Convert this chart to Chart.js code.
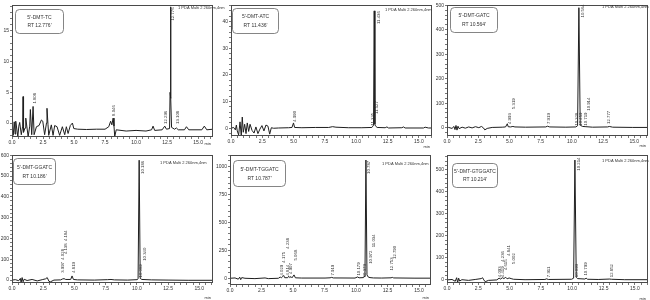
<!DOCTYPE html>
<html><head><meta charset="utf-8">
<script src="https://cdn.jsdelivr.net/npm/chart.js@4.4.1/dist/chart.umd.min.js"></script>
<style>
html,body{margin:0;padding:0;background:#fff;}
body{width:650px;height:300px;position:relative;overflow:hidden;}
canvas{position:absolute;}
</style></head><body>
<script>
// ---------- DATA ----------
const xTickValues = [0, 2.5, 5, 7.5, 10, 12.5, 15];
const pdaText = "1 PDA Multi 2 260nm,4nm";

// Panel 1: 5'-DMT-TC
const p1Name = "5'-DMT-TC", p1RT = "RT 12.776'";
const p1YTicks = [0, 5, 10, 15];
const p1Time = [0,0.10,0.18,0.25,0.30,0.47,0.55,0.62,0.75,0.86,0.89,0.93,1.05,1.11,1.30,1.43,1.48,1.59,1.70,1.78,1.97,2.18,2.37,2.48,2.63,2.78,2.82,2.90,2.96,3.17,3.31,3.44,3.63,3.84,4.06,4.25,4.38,4.52,4.70,4.87,4.98,5.30,6.00,6.80,7.50,7.80,7.95,8.05,8.15,8.22,8.28,8.40,9.20,10.00,10.80,11.25,11.37,11.50,12.10,12.31,12.45,12.70,12.74,12.776,12.81,12.86,13.10,13.25,13.40,13.90,14.06,14.25,15.30,15.50,15.70,16.20];
const p1Signal = [-0.3,-2.0,0.2,-1.8,0.3,-2.2,-0.5,0.1,-1.9,-0.5,4.3,-1.5,-0.8,0.8,-2.2,-0.5,2.2,-1.9,2.7,-1.9,-0.6,-0.4,0.5,0.3,-1.9,0.0,2.4,-0.2,-2.0,-0.3,-2.0,-0.4,-0.6,-2.0,-0.6,-1.9,-0.6,-1.7,-0.4,0.0,-0.9,-1.0,-1.05,-1.0,-1.0,-0.6,0.3,-0.3,0.8,-0.5,-2.2,-1.1,-1.3,-1.2,-1.3,-1.1,-0.5,-1.2,-1.1,-0.5,-1.0,-0.9,5.0,18.9,4.0,-0.7,-1.0,-0.8,-1.1,-1.1,-0.6,-1.1,-1.1,-0.5,-1.1,-1.0];
const p1PeakText  = ["1.808","8.046","12.296","12.776","13.108"];
const p1PeakTime  = [1.83, 8.17, 12.37, 12.98, 13.39];
const p1PeakLevel = [3.0, 1.0, -0.3, 16.5, -0.3];

// Panel 2: 5'-DMT-ATC
const p2Name = "5'-DMT-ATC", p2RT = "RT 11.436'";
const p2YTicks = [0, 10, 20, 30, 40];
const p2Time = [0,0.21,0.35,0.43,0.50,0.61,0.72,0.82,0.90,0.98,1.09,1.20,1.30,1.41,1.52,1.68,1.84,1.99,2.15,2.31,2.47,2.63,2.79,2.95,3.09,3.22,3.40,3.80,4.60,4.87,4.99,5.08,5.66,6.73,7.80,8.11,8.38,9.39,10.45,11.25,11.33,11.38,11.436,11.49,11.53,11.67,12.31,12.45,12.58,13.64,13.78,13.90,15.37,15.50,15.77,16.05];
const p2Signal = [0,0.3,-0.6,1.2,-1.0,-2.5,2.4,-2.8,4.2,-1.5,1.5,-2.0,2.0,-1.2,1.5,-0.8,-1.8,0.5,-2.0,-0.3,1.0,-1.0,1.2,0.8,-2.2,0.2,0,0.1,0.2,0.3,2.0,0.3,0.2,0.3,0.3,0.6,0.4,0.2,0.2,0.3,0.8,1.2,44.0,1.5,0.9,0.3,0.2,0.5,0.1,0.2,0.5,0.1,0.1,0.4,0.1,0.1];
const p2PeakText  = ["4.990","11.335","11.436","11.527"];
const p2PeakTime  = [5.13, 11.33, 11.78, 11.68];
const p2PeakLevel = [2.1, 0.6, 38.7, 5.0];

// Panel 3: 5'-DMT-GATC
const p3Name = "5'-DMT-GATC", p3RT = "RT 10.564'";
const p3YTicks = [0, 100, 200, 300, 400, 500];
const p3Time = [0,0.13,0.40,0.56,0.64,0.72,0.80,0.88,0.97,1.21,1.47,1.74,2.01,2.28,2.55,2.76,2.92,3.03,3.22,3.62,4.42,4.69,4.83,4.90,5.09,5.28,5.44,6.30,7.91,8.04,8.23,9.52,10.32,10.46,10.564,10.67,10.86,11.13,11.66,12.87,13.00,13.27,14.88,16.10];
const p3Signal = [0,1,-3,5,-8,9,-10,6,-4,2,-2,3,-1,4,0,5,-1,-9,-3,1,2,3,16,4,3,5,3,2,3,6,3,2,3,8,490,10,5,4,2,3,5,2,1,1];
const p3PeakText  = ["4.993","5.319","7.919","10.328","10.459","10.564","10.719","10.914","12.777"];
const p3PeakTime  = [5.01, 5.36, 8.18, 10.42, 10.75, 10.86, 11.13, 11.32, 12.95];
const p3PeakLevel = [11, 72, 11, 4, 4, 446, 4, 65, 11];

// Panel 4: 5'-DMT-GGATC
const p4Name = "5'-DMT-GGATC", p4RT = "RT 10.186'";
const p4YTicks = [0, 100, 200, 300, 400, 500, 600];
const p4Time = [0,0.27,0.54,0.67,0.73,0.81,0.89,0.97,1.21,1.61,2.02,2.42,2.69,2.82,2.96,3.09,3.36,3.90,4.03,4.17,4.30,4.70,4.81,4.92,5.24,6.59,7.66,7.93,8.20,9.27,10.03,10.10,10.186,10.27,10.40,11.16,12.50,14.11,16.10];
const p4Signal = [0,2,-3,8,-12,12,-8,4,-2,3,-4,2,6,12,-6,-8,0,1,5,7,3,3,20,3,1,0,2,3,1,0,2,6,576,8,3,1,0,-1,-1];
const p4PeakText  = ["3.997","4.028","4.138","4.184","4.819","10.089","10.186","10.340"];
const p4PeakTime  = [4.10, 4.10, 4.35, 4.35, 4.95, 10.35, 10.48, 10.67];
const p4PeakLevel = [30, 93, 120, 183, 30, 8, 505, 88];

// Panel 5: 5'-DMT-TGGATC
const p5Name = "5'-DMT-TGGATC", p5RT = "RT 10.787'";
const p5YTicks = [0, 250, 500, 750, 1000];
const p5Time = [0,0.40,0.66,0.77,0.85,0.93,1.19,1.98,2.78,3.04,3.84,4.00,4.07,4.18,4.26,4.34,4.58,4.66,4.74,4.84,4.92,5.08,5.19,5.69,7.54,7.94,8.07,8.20,9.92,10.13,10.24,10.60,10.71,10.787,10.87,10.98,11.11,11.38,12.04,12.78,12.88,12.99,14.68,16.00];
const p5Signal = [0,3,-8,10,-12,6,0,-3,3,-3,0,12,3,15,25,5,5,18,6,15,4,30,4,2,2,4,8,3,2,12,4,6,20,1055,30,10,6,3,2,4,8,3,1,1];
const p5PeakText  = ["4.029","4.175","4.238","4.814","4.907","5.068","7.919","10.179","10.379","10.787","10.972","11.034","12.753","12.790"];
const p5PeakTime  = [4.10, 4.30, 4.55, 4.62, 4.82, 5.20, 8.12, 10.24, 10.68, 11.03, 11.16, 11.38, 12.83, 13.10];
const p5PeakLevel = [15, 130, 255, 15, 30, 150, 15, 15, 0, 922, 120, 268, 60, 163];

// Panel 6: 5'-DMT-GTGGATC
const p6Name = "5'-DMT-GTGGATC", p6RT = "RT 10.214'";
const p6YTicks = [0, 100, 200, 300, 400, 500];
const p6Time = [0,0.40,0.66,0.77,0.85,0.93,1.01,1.19,1.72,2.25,2.73,2.84,2.94,3.05,3.32,3.98,4.16,4.27,4.43,4.54,4.69,4.80,4.96,5.12,5.31,6.23,7.82,7.96,8.09,9.95,10.11,10.214,10.32,10.42,11.01,11.11,11.22,12.07,13.00,13.13,14.19,16.05];
const p6Signal = [0,2,-6,10,-12,8,-5,1,-2,2,6,10,0,-8,-2,0,8,4,10,6,12,5,9,6,3,1,2,5,2,3,8,545,12,6,4,8,3,2,4,3,1,1];
const p6PeakText  = ["4.093","4.236","4.419","4.615","4.841","5.002","7.911","10.099","10.214","10.799","12.852"];
const p6PeakTime  = [4.22, 4.45, 4.45, 4.70, 4.92, 5.30, 8.17, 10.34, 10.53, 11.06, 13.13];
const p6PeakLevel = [8, 78, 8, 40, 105, 68, 8, 8, 492, 15, 8];

// ---------- LAYOUT ----------
const FONT = '"Liberation Sans", Arial, sans-serif';
const panels = [
  {box:[0,0,228,150],   area:[12,5,213,137],   time:p1Time, sig:p1Signal, yMin:-2.27, yMax:19.2, yTicks:p1YTicks, yMinor:1,  xMax:16.2,
   name:p1Name, rt:p1RT, pk:[p1PeakText,p1PeakTime,p1PeakLevel], legend:[3,4,48,24], pda:[-35,3], minDy:7},
  {box:[215,0,220,150], area:[231,5,432,136],  time:p2Time, sig:p2Signal, yMin:-2.9, yMax:46.2, yTicks:p2YTicks, yMinor:2,  xMax:16.05,
   name:p2Name, rt:p2RT, pk:[p2PeakText,p2PeakTime,p2PeakLevel], legend:[1,3,46,25], pda:[-47,5], minDy:11},
  {box:[425,0,225,150], area:[447,5,648,136],  time:p3Time, sig:p3Signal, yMin:-34, yMax:501, yTicks:p3YTicks, yMinor:20, xMax:16.1,
   name:p3Name, rt:p3RT, pk:[p3PeakText,p3PeakTime,p3PeakLevel], legend:[3,2,47,25], pda:[-46,2], minDy:10},
  {box:[0,148,220,152], area:[12,155,213,283], time:p4Time, sig:p4Signal, yMin:-14, yMax:601, yTicks:p4YTicks, yMinor:20, xMax:16.1,
   name:p4Name, rt:p4RT, pk:[p4PeakText,p4PeakTime,p4PeakLevel], legend:[1,3,42,26], pda:[-53,8], minDy:15},
  {box:[212,148,222,152], area:[230,155,431,285], time:p5Time, sig:p5Signal, yMin:-60, yMax:1100, yTicks:p5YTicks, yMinor:50, xMax:15.95,
   name:p5Name, rt:p5RT, pk:[p5PeakText,p5PeakTime,p5PeakLevel], legend:[3,5,52,26], pda:[-49,9], minDy:13},
  {box:[425,148,225,152], area:[447,155,648,283], time:p6Time, sig:p6Signal, yMin:-14, yMax:568, yTicks:p6YTicks, yMinor:20, xMax:16.05,
   name:p6Name, rt:p6RT, pk:[p6PeakText,p6PeakTime,p6PeakLevel], legend:[5,8,45,24], pda:[-46,6], minDy:16}
];

function stepTicks(min, max, step) {
  const out = [];
  for (let k = Math.ceil(min / step - 1e-9); k * step <= max + 1e-9; k++) out.push({value: +(k * step).toFixed(6)});
  return out;
}
const isIn = (arr, v) => arr.some(a => Math.abs(a - v) < 1e-6);

const decor = {
  id: 'decor',
  afterDatasetsDraw(chart, args, o) {
    const {ctx, chartArea: a, scales: {x, y}} = chart;
    ctx.save();
    ctx.strokeStyle = '#4a4a4a'; ctx.lineWidth = 1;
    ctx.strokeRect(Math.round(a.left) + 0.5, Math.round(a.top) + 0.5, Math.round(a.right - a.left) - 1, Math.round(a.bottom - a.top) - 1);
    ctx.fillStyle = '#333';
    ctx.font = '4.3px ' + FONT;
    const [txt, tt, lv] = o.pk;
    txt.forEach((s, i) => {
      const px = x.getPixelForValue(tt[i]), py = y.getPixelForValue(lv[i]);
      ctx.save(); ctx.translate(px, py - 1); ctx.rotate(-Math.PI / 2);
      ctx.textAlign = 'left'; ctx.textBaseline = 'middle'; ctx.fillText(s, 0, 0); ctx.restore();
    });
    const [dx, dy, bw, bh] = o.legend;
    const bx = Math.round(a.left + dx) + 0.5, by = Math.round(a.top + dy) + 0.5;
    ctx.beginPath();
    if (ctx.roundRect) ctx.roundRect(bx, by, bw, bh, 4); else ctx.rect(bx, by, bw, bh);
    ctx.strokeStyle = '#666'; ctx.lineWidth = 0.8; ctx.stroke();
    ctx.font = '5px ' + FONT; ctx.textAlign = 'center'; ctx.textBaseline = 'middle';
    ctx.fillText(o.name, bx + bw / 2, by + bh * 0.34);
    ctx.fillText(o.rt, bx + bw / 2, by + bh * 0.68);
    ctx.font = '4px ' + FONT; ctx.textAlign = 'left';
    ctx.fillText(pdaText, a.right + o.pda[0], a.top + o.pda[1]);
    ctx.textAlign = 'right';
    ctx.fillText('min', a.right - 2, a.bottom + o.minDy);
    ctx.restore();
  }
};

panels.forEach((p) => {
  const [L, T, W, H] = p.box;
  const [cl, ct, cr, cb] = p.area;
  const cv = document.createElement('canvas');
  cv.width = W; cv.height = H;
  cv.style.left = L + 'px'; cv.style.top = T + 'px';
  cv.style.width = W + 'px'; cv.style.height = H + 'px';
  document.body.appendChild(cv);
  const n = Math.min(p.time.length, p.sig.length);
  const pts = [];
  for (let i = 0; i < n; i++) pts.push({x: p.time[i], y: p.sig[i]});
  const yW = cl - L, xH = T + H - cb;
  new Chart(cv, {
    type: 'line',
    data: {datasets: [{data: pts, borderColor: '#1e1e1e', borderWidth: 1, pointRadius: 0, tension: 0, fill: false}]},
    options: {
      responsive: false, animation: false, devicePixelRatio: 1,
      layout: {autoPadding: false, padding: {left: 0, top: ct - T, right: L + W - cr, bottom: 0}},
      plugins: {legend: {display: false}, tooltip: {enabled: false},
        decor: {pk: p.pk, legend: p.legend, name: p.name, rt: p.rt, pda: p.pda, minDy: p.minDy}},
      scales: {
        x: {type: 'linear', min: 0, max: p.xMax,
          afterBuildTicks: s => { s.ticks = stepTicks(0, p.xMax, 0.5); },
          afterFit: s => { s.height = xH; },
          grid: {drawOnChartArea: false, drawTicks: true, tickLength: 2, color: '#555', lineWidth: 0.8},
          border: {display: false},
          ticks: {autoSkip: false, maxRotation: 0, padding: 1, color: '#333', font: {size: 5, family: FONT},
            callback: v => isIn(xTickValues, v) ? Number(v).toFixed(1) : ''}
        },
        y: {type: 'linear', min: p.yMin, max: p.yMax,
          afterBuildTicks: s => { s.ticks = stepTicks(p.yMin, p.yMax, p.yMinor); },
          afterFit: s => { s.width = yW; },
          grid: {drawOnChartArea: false, drawTicks: true, tickLength: 2, color: '#555', lineWidth: 0.8},
          border: {display: false},
          ticks: {autoSkip: false, padding: 1, color: '#333', font: {size: 5, family: FONT},
            callback: v => isIn(p.yTicks, v) ? String(v) : ''}
        }
      }
    },
    plugins: [decor]
  });
});
</script>
</body></html>
